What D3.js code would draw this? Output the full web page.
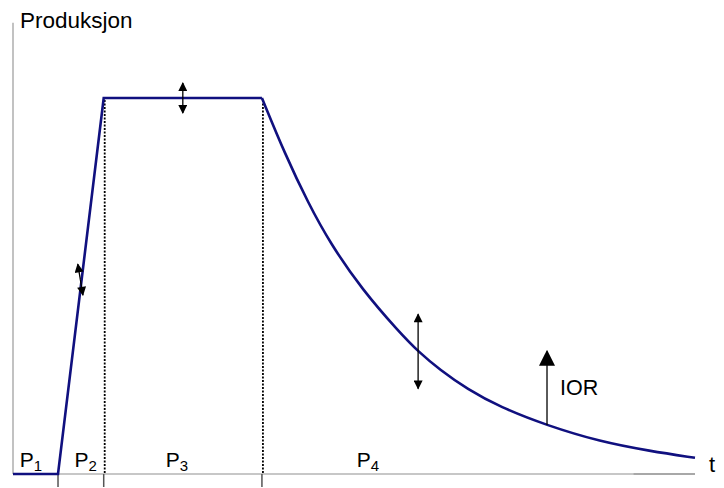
<!DOCTYPE html>
<html>
<head>
<meta charset="utf-8">
<script src="https://cdn.jsdelivr.net/npm/d3@7"></script>
<style>
  html, body { margin: 0; padding: 0; background: #fff; }
  svg { display: block; font-family: "Liberation Sans", Arial, sans-serif; }
</style>
</head>
<body>
<svg id="chart" width="724" height="488"></svg>
<script>
// ---- Data ----
const rampTimes = [0, 6.6, 13.3, 36.5];
const rampValues = [0, 0, 100, 100];
const declineTimes = [36.5, 39.9, 43.3, 46.5, 51.2, 56.7, 59.4, 62.6, 66.6, 71.4, 78.3, 86.1, 93.4, 100];
const declineValues = [100, 85.0, 72.0, 61.4, 49.0, 37.6, 32.6, 27.7, 22.6, 17.8, 12.9, 8.6, 6.1, 4.3];
const phaseBounds = [6.6, 13.3, 36.5];
const dottedBounds = [13.3, 36.5];
const phaseLabels = ["1", "2", "3", "4"];
const phaseLabelTimes = [1.0, 9.0, 22.4, 50.4];
// double-headed arrows: [t1, v1, t2, v2]
const doubleArrows = [
  [9.5, 55.8, 10.25, 47.6],
  [24.9, 104.0, 24.9, 96.0],
  [59.4, 42.5, 59.4, 22.7]
];
const iorArrow = [78.3, 13.0, 78.3, 32.6];

// ---- Scales ----
const x = d3.scaleLinear().domain([0, 100]).range([13, 695]);
const y = d3.scaleLinear().domain([0, 100]).range([474, 98]);

const svg = d3.select("#chart");

// defs: arrowheads
const defs = svg.append("defs");
defs.append("marker").attr("id", "ah").attr("viewBox", "0 0 10 10")
  .attr("refX", 9).attr("refY", 5).attr("markerWidth", 10).attr("markerHeight", 9)
  .attr("markerUnits", "userSpaceOnUse").attr("orient", "auto")
  .append("path").attr("d", "M0,0 L10,5 L0,10 Z").attr("fill", "#000");
defs.append("marker").attr("id", "ahBig").attr("viewBox", "0 0 10 10")
  .attr("refX", 9).attr("refY", 5).attr("markerWidth", 16).attr("markerHeight", 18)
  .attr("markerUnits", "userSpaceOnUse").attr("orient", "auto")
  .append("path").attr("d", "M0,0 L10,5 L0,10 Z").attr("fill", "#000");

// y axis
svg.append("line")
  .attr("x1", x(0)).attr("x2", x(0))
  .attr("y1", y(120)).attr("y2", y(0))
  .attr("stroke", "#999").attr("stroke-width", 1.2);

// baseline (time axis)
svg.append("line")
  .attr("x1", x(0)).attr("x2", x(100))
  .attr("y1", y(0)).attr("y2", y(0))
  .attr("stroke", "#b5b5b5").attr("stroke-width", 1.5);
svg.append("line")
  .attr("x1", x(91)).attr("x2", x(100))
  .attr("y1", y(0)).attr("y2", y(0))
  .attr("stroke", "#8a8a8a").attr("stroke-width", 1.2);

// ticks at phase boundaries
svg.selectAll("line.tick").data(phaseBounds).enter().append("line")
  .attr("class", "tick")
  .attr("x1", d => x(d)).attr("x2", d => x(d))
  .attr("y1", y(0)).attr("y2", y(0) + 13)
  .attr("stroke", "#555").attr("stroke-width", 1.5);

// dotted verticals
svg.selectAll("line.dot").data(dottedBounds).enter().append("line")
  .attr("class", "dot")
  .attr("x1", d => x(d) + 1).attr("x2", d => x(d) + 1)
  .attr("y1", y(100) + 2).attr("y2", y(0))
  .attr("stroke", "#000").attr("stroke-width", 1.8)
  .attr("stroke-dasharray", "2,1.5");

// production curve
const lineLin = d3.line().x(d => x(d[0])).y(d => y(d[1])).curve(d3.curveLinear);
const lineSmooth = d3.line().x(d => x(d[0])).y(d => y(d[1])).curve(d3.curveBasis);
svg.append("path")
  .datum(rampTimes.map((t, i) => [t, rampValues[i]]))
  .attr("d", lineLin).attr("fill", "none")
  .attr("stroke", "#10107f").attr("stroke-width", 2.6).attr("stroke-linejoin", "miter");
svg.append("path")
  .datum(declineTimes.map((t, i) => [t, declineValues[i]]))
  .attr("d", lineSmooth).attr("fill", "none")
  .attr("stroke", "#10107f").attr("stroke-width", 2.6);

// double arrows (drawn as two halves from the centre outwards)
doubleArrows.forEach(a => {
  const cx = (x(a[0]) + x(a[2])) / 2, cy = (y(a[1]) + y(a[3])) / 2;
  [[a[0], a[1]], [a[2], a[3]]].forEach(p => {
    svg.append("line")
      .attr("x1", cx).attr("y1", cy)
      .attr("x2", x(p[0])).attr("y2", y(p[1]))
      .attr("stroke", "#000").attr("stroke-width", 1.3)
      .attr("marker-end", "url(#ah)");
  });
});

// IOR arrow
svg.append("line")
  .attr("x1", x(iorArrow[0])).attr("y1", y(iorArrow[1]))
  .attr("x2", x(iorArrow[2])).attr("y2", y(iorArrow[3]))
  .attr("stroke", "#000").attr("stroke-width", 1.3)
  .attr("marker-end", "url(#ahBig)");
svg.append("text")
  .attr("x", x(iorArrow[0]) + 13).attr("y", 395)
  .attr("font-size", 21.5).attr("fill", "#000").text("IOR");

// phase labels
phaseLabels.forEach((s, i) => {
  const t = svg.append("text")
    .attr("x", x(phaseLabelTimes[i])).attr("y", 467)
    .attr("font-size", 21).attr("fill", "#000");
  t.append("tspan").text("P");
  t.append("tspan").attr("font-size", 15).attr("dy", 4).text(s);
});

// axis labels
svg.append("text").attr("x", 20).attr("y", 28)
  .attr("font-size", 22.5).attr("fill", "#000").text("Produksjon");
svg.append("text").attr("x", 709).attr("y", 472)
  .attr("font-size", 22).attr("fill", "#000").text("t");
</script>
</body>
</html>
